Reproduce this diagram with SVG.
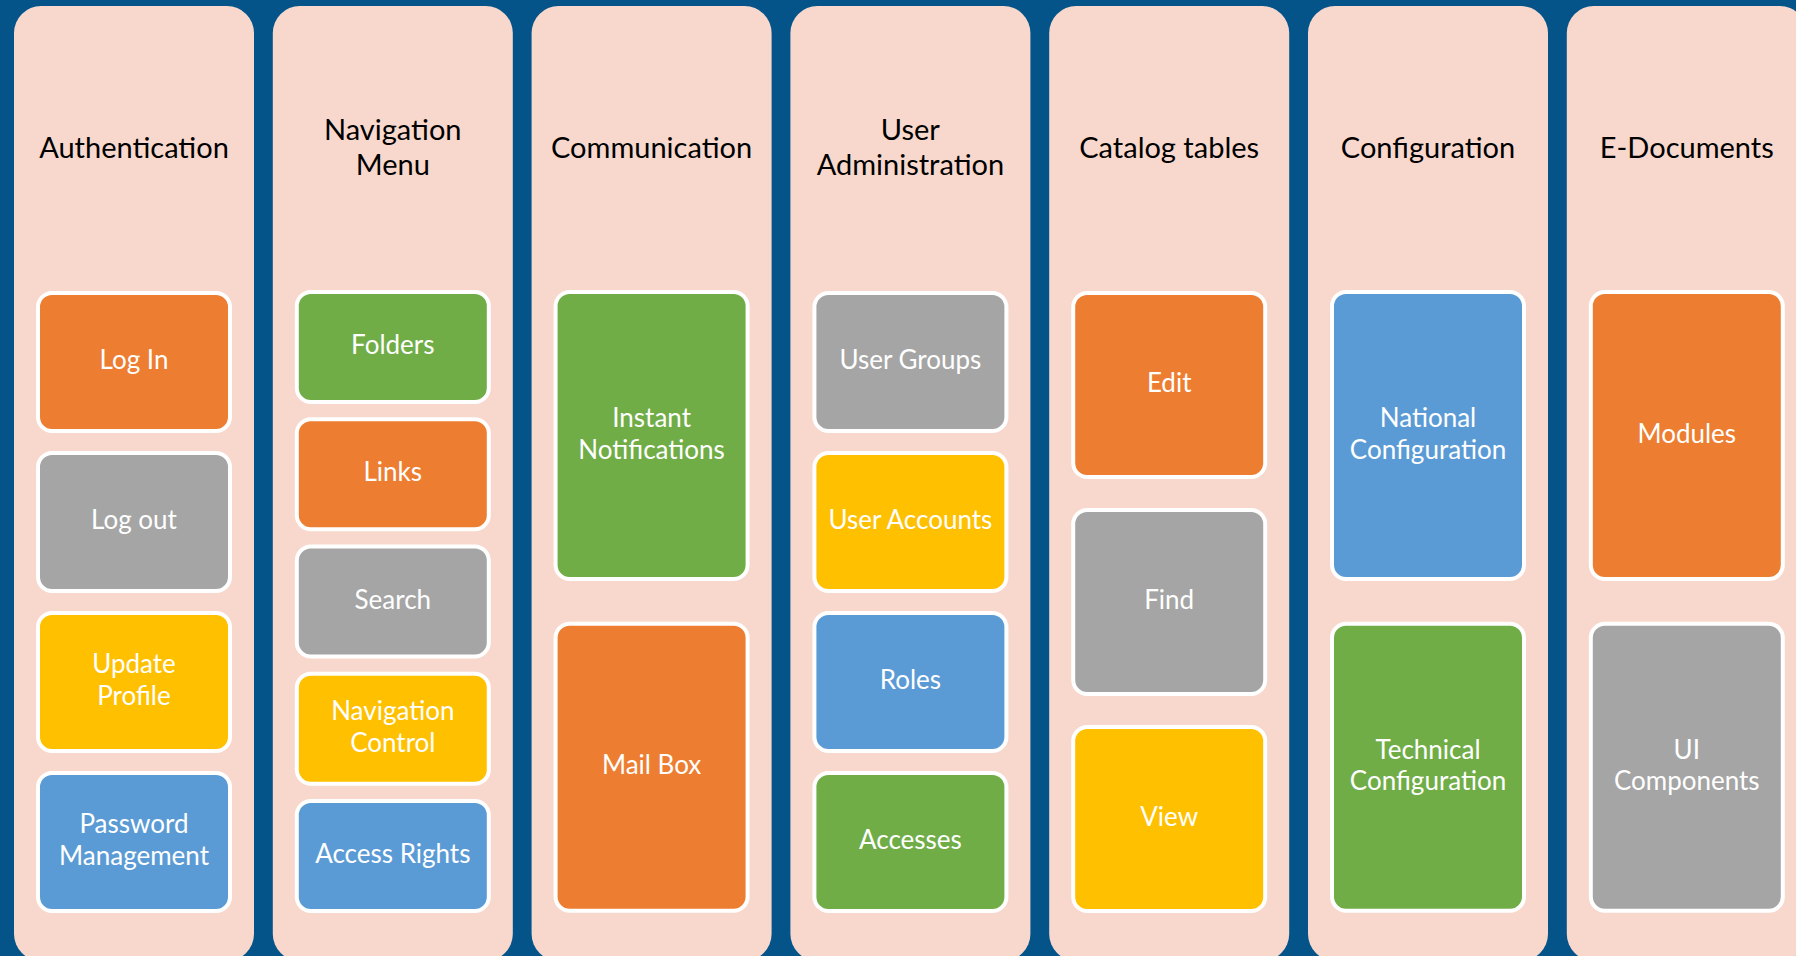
<svg xmlns="http://www.w3.org/2000/svg" width="1796" height="956" viewBox="0 0 1796 956">
<style>
.bg{fill:#04548A}
.col{fill:#F8D8CD}
.box{stroke:#FFFFFF;stroke-width:4}
.o{fill:#ED7D31}.g{fill:#A5A5A5}.y{fill:#FFC000}.b{fill:#5B9BD5}.gr{fill:#70AD47}
.h{font-family:Lato,"Liberation Sans",sans-serif;font-size:29px;fill:#000000;text-anchor:middle}
.t{font-family:Lato,"Liberation Sans",sans-serif;font-size:26px;fill:#FFFFFF;text-anchor:middle}
</style>
<rect class="bg" x="0" y="0" width="1796" height="956"/>

<g id="col-authentication">
<rect class="col" x="14" y="6" width="240" height="955" rx="27"/>
<text class="h" x="134" y="158">Authentication</text>
</g>
<g id="node-login"><rect class="box o" x="38" y="293" width="192" height="138" rx="14"/><text class="t" x="134" y="369">Log In</text></g>
<g id="node-logout"><rect class="box g" x="38" y="453" width="192" height="138" rx="14"/><text class="t" x="134" y="529">Log out</text></g>
<g id="node-update-profile"><rect class="box y" x="38" y="613" width="192" height="138" rx="14"/><text class="t" x="134" y="673.3">Update</text><text class="t" x="134" y="704.8">Profile</text></g>
<g id="node-password"><rect class="box b" x="38" y="773" width="192" height="138" rx="14"/><text class="t" x="134" y="833.3">Password</text><text class="t" x="134" y="864.8">Management</text></g>

<g id="col-navigation">
<rect class="col" x="272.8" y="6" width="240" height="955" rx="27"/>
<text class="h" x="392.8" y="139.5">Navigation</text><text class="h" x="392.8" y="174.5">Menu</text>
</g>
<g id="node-folders"><rect class="box gr" x="296.8" y="292" width="192" height="110" rx="14"/><text class="t" x="392.8" y="354">Folders</text></g>
<g id="node-links"><rect class="box o" x="296.8" y="419.3" width="192" height="110" rx="14"/><text class="t" x="392.8" y="481.3">Links</text></g>
<g id="node-search"><rect class="box g" x="296.8" y="546.5" width="192" height="110" rx="14"/><text class="t" x="392.8" y="608.5">Search</text></g>
<g id="node-nav-control"><rect class="box y" x="296.8" y="673.8" width="192" height="110" rx="14"/><text class="t" x="392.8" y="720.1">Navigation</text><text class="t" x="392.8" y="751.6">Control</text></g>
<g id="node-access-rights"><rect class="box b" x="296.8" y="801" width="192" height="110" rx="14"/><text class="t" x="392.8" y="863">Access Rights</text></g>

<g id="col-communication">
<rect class="col" x="531.6" y="6" width="240" height="955" rx="27"/>
<text class="h" x="651.6" y="158">Communication</text>
</g>
<g id="node-instant"><rect class="box gr" x="555.6" y="292" width="192" height="287" rx="14"/><text class="t" x="651.6" y="427">Instant</text><text class="t" x="651.6" y="458.5">Notifications</text></g>
<g id="node-mailbox"><rect class="box o" x="555.6" y="623.7" width="192" height="287" rx="14"/><text class="t" x="651.6" y="774.2">Mail Box</text></g>

<g id="col-user-admin">
<rect class="col" x="790.4" y="6" width="240" height="955" rx="27"/>
<text class="h" x="910.4" y="139.5">User</text><text class="h" x="910.4" y="174.5">Administration</text>
</g>
<g id="node-user-groups"><rect class="box g" x="814.4" y="293" width="192" height="138" rx="14"/><text class="t" x="910.4" y="369">User Groups</text></g>
<g id="node-user-accounts"><rect class="box y" x="814.4" y="453" width="192" height="138" rx="14"/><text class="t" x="910.4" y="529">User Accounts</text></g>
<g id="node-roles"><rect class="box b" x="814.4" y="613" width="192" height="138" rx="14"/><text class="t" x="910.4" y="689">Roles</text></g>
<g id="node-accesses"><rect class="box gr" x="814.4" y="773" width="192" height="138" rx="14"/><text class="t" x="910.4" y="849">Accesses</text></g>

<g id="col-catalog">
<rect class="col" x="1049.2" y="6" width="240" height="955" rx="27"/>
<text class="h" x="1169.2" y="158">Catalog tables</text>
</g>
<g id="node-edit"><rect class="box o" x="1073.2" y="293" width="192" height="184" rx="14"/><text class="t" x="1169.2" y="392">Edit</text></g>
<g id="node-find"><rect class="box g" x="1073.2" y="510" width="192" height="184" rx="14"/><text class="t" x="1169.2" y="609">Find</text></g>
<g id="node-view"><rect class="box y" x="1073.2" y="727" width="192" height="184" rx="14"/><text class="t" x="1169.2" y="826">View</text></g>

<g id="col-configuration">
<rect class="col" x="1308" y="6" width="240" height="955" rx="27"/>
<text class="h" x="1428" y="158">Configuration</text>
</g>
<g id="node-national"><rect class="box b" x="1332" y="292" width="192" height="287" rx="14"/><text class="t" x="1428" y="427">National</text><text class="t" x="1428" y="458.5">Configuration</text></g>
<g id="node-technical"><rect class="box gr" x="1332" y="623.7" width="192" height="287" rx="14"/><text class="t" x="1428" y="758.5">Technical</text><text class="t" x="1428" y="790">Configuration</text></g>

<g id="col-edocuments">
<rect class="col" x="1566.8" y="6" width="240" height="955" rx="27"/>
<text class="h" x="1686.8" y="158">E-Documents</text>
</g>
<g id="node-modules"><rect class="box o" x="1590.8" y="292" width="192" height="287" rx="14"/><text class="t" x="1686.8" y="442.5">Modules</text></g>
<g id="node-ui-components"><rect class="box g" x="1590.8" y="623.7" width="192" height="287" rx="14"/><text class="t" x="1686.8" y="758.5">UI</text><text class="t" x="1686.8" y="790">Components</text></g>

<g id="connectors"></g>
</svg>
